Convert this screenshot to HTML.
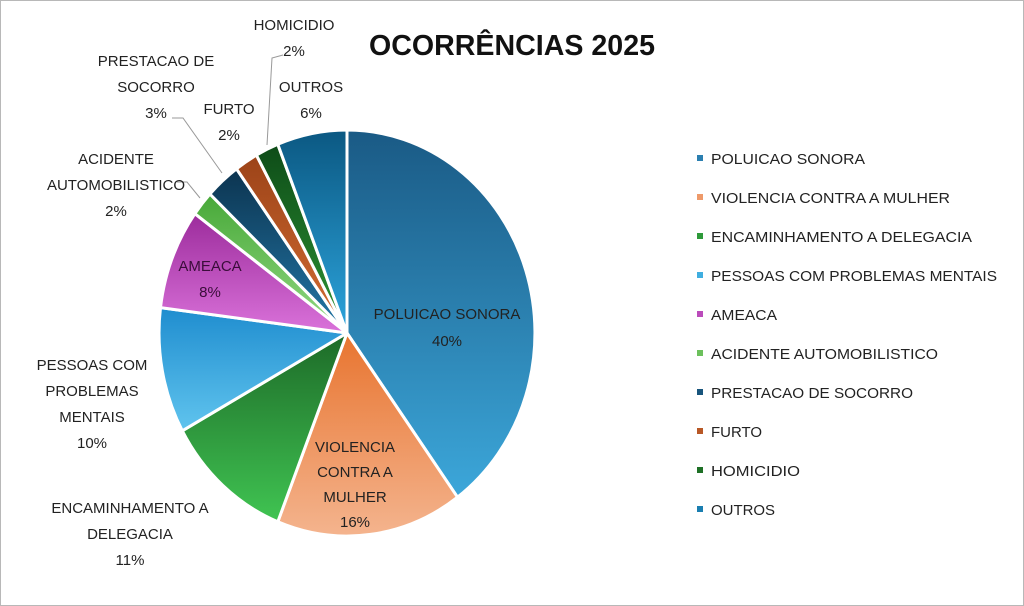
<!DOCTYPE html>
<html><head><meta charset="utf-8"><style>
html,body{margin:0;padding:0;background:#fff;}
svg{display:block;font-family:"Liberation Sans Narrow","Liberation Sans",sans-serif;}
</style></head><body>
<svg width="1024" height="606" viewBox="0 0 1024 606" xmlns="http://www.w3.org/2000/svg">
<defs>
<linearGradient id="g0" x1="0" y1="0" x2="0" y2="1"><stop offset="0" stop-color="#1a5a85"/><stop offset="1" stop-color="#3ca7da"/></linearGradient>
<linearGradient id="g1" x1="0" y1="0" x2="0" y2="1"><stop offset="0" stop-color="#e8742f"/><stop offset="1" stop-color="#f4b48e"/></linearGradient>
<linearGradient id="g2" x1="0" y1="0" x2="0" y2="1"><stop offset="0" stop-color="#1d6a28"/><stop offset="1" stop-color="#40c452"/></linearGradient>
<linearGradient id="g3" x1="0" y1="0" x2="0" y2="1"><stop offset="0" stop-color="#1f8dcf"/><stop offset="1" stop-color="#60c4ee"/></linearGradient>
<linearGradient id="g4" x1="0" y1="0" x2="0" y2="1"><stop offset="0" stop-color="#9c2c9c"/><stop offset="1" stop-color="#da72da"/></linearGradient>
<linearGradient id="g5" x1="0" y1="0" x2="0" y2="1"><stop offset="0" stop-color="#47a838"/><stop offset="1" stop-color="#94da84"/></linearGradient>
<linearGradient id="g6" x1="0" y1="0" x2="0" y2="1"><stop offset="0" stop-color="#0c3450"/><stop offset="1" stop-color="#2378a8"/></linearGradient>
<linearGradient id="g7" x1="0" y1="0" x2="0" y2="1"><stop offset="0" stop-color="#9c4318"/><stop offset="1" stop-color="#d46e34"/></linearGradient>
<linearGradient id="g8" x1="0" y1="0" x2="0" y2="1"><stop offset="0" stop-color="#0e4c18"/><stop offset="1" stop-color="#2e9434"/></linearGradient>
<linearGradient id="g9" x1="0" y1="0" x2="0" y2="1"><stop offset="0" stop-color="#0b5882"/><stop offset="1" stop-color="#2ca4dc"/></linearGradient>
</defs>
<rect x="0.5" y="0.5" width="1023" height="605" fill="#fff" stroke="#b8b8b8"/>
<text x="512" y="55" text-anchor="middle" font-size="29" font-weight="bold" fill="#111" textLength="286" lengthAdjust="spacingAndGlyphs">OCORRÊNCIAS 2025</text>
<g stroke="#fff" stroke-width="3" stroke-linejoin="round">
<path d="M347,333 L347,130 A188,203 0 0 1 457.5,497.2 Z" fill="url(#g0)"/>
<path d="M347,333 L457.5,497.2 A188,203 0 0 1 277.8,521.8 Z" fill="url(#g1)"/>
<path d="M347,333 L277.8,521.8 A188,203 0 0 1 182.3,430.8 Z" fill="url(#g2)"/>
<path d="M347,333 L182.3,430.8 A188,203 0 0 1 160.5,307.6 Z" fill="url(#g3)"/>
<path d="M347,333 L160.5,307.6 A188,203 0 0 1 194.9,213.7 Z" fill="url(#g4)"/>
<path d="M347,333 L194.9,213.7 A188,203 0 0 1 209.9,194 Z" fill="url(#g5)"/>
<path d="M347,333 L209.9,194 A188,203 0 0 1 236.5,168.8 Z" fill="url(#g6)"/>
<path d="M347,333 L236.5,168.8 A188,203 0 0 1 256.4,155.1 Z" fill="url(#g7)"/>
<path d="M347,333 L256.4,155.1 A188,203 0 0 1 277.8,144.3 Z" fill="url(#g8)"/>
<path d="M347,333 L277.8,144.3 A188,203 0 0 1 347,130 Z" fill="url(#g9)"/>
</g>
<g fill="none" stroke="#999" stroke-width="1">
<polyline points="283,55 272,58 267,145"/>
<polyline points="172,118 183,118 222,173"/>
<polyline points="177,182 187,182 200,198"/>
</g>
<g font-size="15" fill="#222" text-anchor="middle">
<text x="447" y="319">POLUICAO SONORA</text><text x="447" y="346">40%</text>
<text x="355" y="452">VIOLENCIA</text><text x="355" y="477">CONTRA A</text><text x="355" y="502">MULHER</text><text x="355" y="527">16%</text>
<text x="210" y="271" fill="#3a0d3a">AMEACA</text><text x="210" y="297" fill="#3a0d3a">8%</text>
<text x="92" y="370">PESSOAS COM</text><text x="92" y="396">PROBLEMAS</text><text x="92" y="422">MENTAIS</text><text x="92" y="448">10%</text>
<text x="130" y="513">ENCAMINHAMENTO A</text><text x="130" y="539">DELEGACIA</text><text x="130" y="565">11%</text>
<text x="116" y="164">ACIDENTE</text><text x="116" y="190">AUTOMOBILISTICO</text><text x="116" y="216">2%</text>
<text x="156" y="66">PRESTACAO DE</text><text x="156" y="92">SOCORRO</text><text x="156" y="118">3%</text>
<text x="229" y="114">FURTO</text><text x="229" y="140">2%</text>
<text x="294" y="30">HOMICIDIO</text><text x="294" y="56">2%</text>
<text x="311" y="92">OUTROS</text><text x="311" y="118">6%</text>
</g>
<g font-size="15" fill="#222">
<rect x="697" y="155" width="6" height="6" fill="#2b7fb0"/><text x="711" y="164" textLength="154" lengthAdjust="spacingAndGlyphs">POLUICAO SONORA</text>
<rect x="697" y="194" width="6" height="6" fill="#ee9a6a"/><text x="711" y="203" textLength="239" lengthAdjust="spacingAndGlyphs">VIOLENCIA CONTRA A MULHER</text>
<rect x="697" y="233" width="6" height="6" fill="#2e9a3a"/><text x="711" y="242" textLength="261" lengthAdjust="spacingAndGlyphs">ENCAMINHAMENTO A DELEGACIA</text>
<rect x="697" y="272" width="6" height="6" fill="#40aee0"/><text x="711" y="281" textLength="286" lengthAdjust="spacingAndGlyphs">PESSOAS COM PROBLEMAS MENTAIS</text>
<rect x="697" y="311" width="6" height="6" fill="#bb4cbb"/><text x="711" y="320" textLength="66" lengthAdjust="spacingAndGlyphs">AMEACA</text>
<rect x="697" y="350" width="6" height="6" fill="#6cc05c"/><text x="711" y="359" textLength="227" lengthAdjust="spacingAndGlyphs">ACIDENTE AUTOMOBILISTICO</text>
<rect x="697" y="389" width="6" height="6" fill="#18557c"/><text x="711" y="398" textLength="202" lengthAdjust="spacingAndGlyphs">PRESTACAO DE SOCORRO</text>
<rect x="697" y="428" width="6" height="6" fill="#b85826"/><text x="711" y="437" textLength="51" lengthAdjust="spacingAndGlyphs">FURTO</text>
<rect x="697" y="467" width="6" height="6" fill="#1e7026"/><text x="711" y="476" textLength="89" lengthAdjust="spacingAndGlyphs">HOMICIDIO</text>
<rect x="697" y="506" width="6" height="6" fill="#1a7eb0"/><text x="711" y="515" textLength="64" lengthAdjust="spacingAndGlyphs">OUTROS</text>
</g>
</svg>
</body></html>
